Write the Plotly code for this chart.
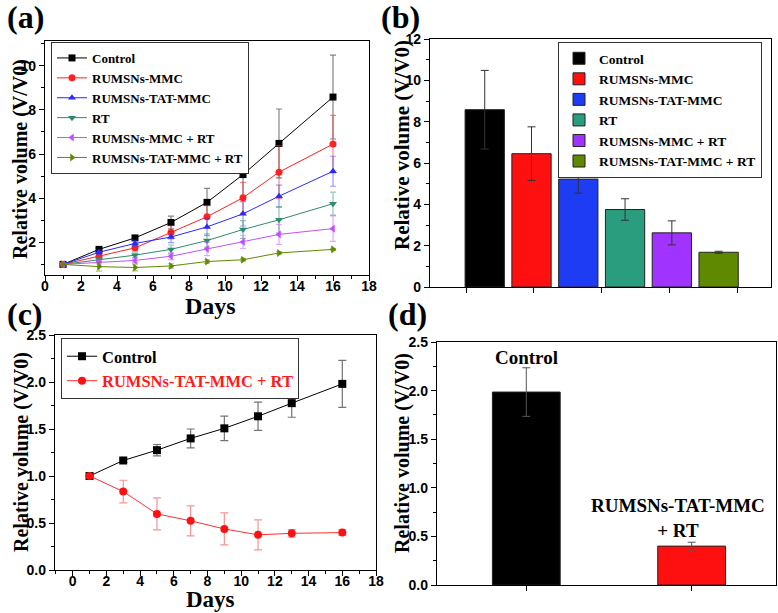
import plotly.graph_objects as go

# ---------------- data ----------------
days = [1, 3, 5, 7, 9, 11, 13, 16]
groups = ["Control", "RUMSNs-MMC", "RUMSNs-TAT-MMC", "RT",
          "RUMSNs-MMC + RT", "RUMSNs-TAT-MMC + RT"]

a_control = [1.0, 1.68, 2.20, 2.90, 3.81, 5.07, 6.48, 8.58]
a_mmc = [1.0, 1.36, 1.75, 2.45, 3.16, 4.02, 5.18, 6.45]
a_tat = [1.0, 1.55, 1.95, 2.24, 2.70, 3.29, 4.09, 5.22]
a_rt = [1.0, 1.22, 1.42, 1.68, 2.08, 2.58, 3.02, 3.75]
a_mmc_rt = [1.0, 1.10, 1.18, 1.37, 1.70, 2.02, 2.36, 2.62]
a_tat_rt = [1.0, 0.90, 0.86, 0.93, 1.13, 1.21, 1.52, 1.68]

e_control = [0, 0.08, 0.10, 0.29, 0.63, 1.10, 1.56, 1.90]
e_mmc = [0, 0.10, 0.15, 0.30, 0.50, 0.70, 1.20, 1.30]
e_tat = [0, 0.10, 0.15, 0.25, 0.40, 0.55, 0.50, 0.68]
e_rt = [0, 0.08, 0.10, 0.20, 0.30, 0.40, 0.60, 0.52]
e_mmc_rt = [0, 0.08, 0.10, 0.15, 0.30, 0.30, 0.45, 0.58]
e_tat_rt = [0, 0.20, 0.15, 0.10, 0.08, 0.06, 0.06, 0.05]

b_values = [8.58, 6.45, 5.22, 3.75, 2.62, 1.68]
b_errors = [1.90, 1.30, 0.68, 0.52, 0.58, 0.05]
b_pos = [1, 2, 3, 4, 5, 6]

c_control = [1.0, 1.165, 1.275, 1.40, 1.507, 1.635, 1.775, 1.98]
c_control_err = [0, 0.02, 0.06, 0.10, 0.13, 0.15, 0.15, 0.25]
c_combo = [1.0, 0.835, 0.597, 0.523, 0.437, 0.374, 0.39, 0.398]
c_combo_err = [0, 0.12, 0.17, 0.16, 0.17, 0.16, 0.04, 0.03]

d_labels = ["Control", "RUMSNs-TAT-MMC<br>+ RT"]
d_values = [1.985, 0.40]
d_errors = [0.25, 0.04]
d_pos = [1, 2]

# ---------------- styles ----------------
line_colors = ["#000000", "#ff2020", "#2a2aff", "#2e8b6e", "#c050ff", "#5f8a00"]
err_colors = ["rgba(90,90,90,0.75)", "rgba(255,40,40,0.55)", "rgba(50,50,255,0.5)",
              "rgba(46,139,110,0.5)", "rgba(192,80,255,0.5)", "rgba(95,138,0,0.5)"]
bar_colors = ["#000000", "#ff1010", "#1f3cf5", "#2a9d7f", "#a133ff", "#5f8a00"]
symbols = ["square", "circle", "triangle-up", "triangle-down", "triangle-left", "triangle-right"]

SERIF = "Liberation Serif"
SANS = "Liberation Sans"

fig = go.Figure()

a_series = [a_control, a_mmc, a_tat, a_rt, a_mmc_rt, a_tat_rt]
a_errs = [e_control, e_mmc, e_tat, e_rt, e_mmc_rt, e_tat_rt]
for i, name in enumerate(groups):
    fig.add_trace(go.Scatter(
        x=days, y=a_series[i], name=name, mode="lines+markers",
        line=dict(color=line_colors[i], width=1),
        marker=dict(symbol=symbols[i], size=7, color=line_colors[i]),
        error_y=dict(type="data", array=a_errs[i], color=err_colors[i], thickness=1.2, width=3),
        xaxis="x", yaxis="y", legend="legend"))

for i, name in enumerate(groups):
    fig.add_trace(go.Bar(
        x=[b_pos[i]], y=[b_values[i]], name=name, width=0.84,
        marker=dict(color=bar_colors[i], line=dict(color="#222222", width=1)),
        error_y=dict(type="data", array=[b_errors[i]], color="#333333", thickness=1, width=4),
        xaxis="x2", yaxis="y2", legend="legend2"))

fig.add_trace(go.Scatter(
    x=days, y=c_control, name="Control", mode="lines+markers",
    line=dict(color="#000000", width=1),
    marker=dict(symbol="square", size=8, color="#000000"),
    error_y=dict(type="data", array=c_control_err, color="rgba(80,80,80,0.8)", thickness=1.2, width=4),
    xaxis="x3", yaxis="y3", legend="legend3"))
fig.add_trace(go.Scatter(
    x=days, y=c_combo, name="<span style='color:#ff1a1a'>RUMSNs-TAT-MMC + RT</span>",
    mode="lines+markers",
    line=dict(color="#ff3030", width=1),
    marker=dict(symbol="circle", size=8, color="#ff1010"),
    error_y=dict(type="data", array=c_combo_err, color="rgba(240,60,60,0.55)", thickness=1.2, width=4),
    xaxis="x3", yaxis="y3", legend="legend3"))

fig.add_trace(go.Bar(
    x=d_pos, y=d_values, width=0.41, showlegend=False,
    marker=dict(color=["#000000", "#ff1010"], line=dict(color="#222222", width=1)),
    error_y=dict(type="data", array=d_errors, color="#555555", thickness=1, width=4),
    xaxis="x4", yaxis="y4"))

W, H = 778, 613


def px_x(p):
    return p / W


def px_y(p):
    return 1 - p / H


def ax(domain, **kw):
    d = dict(domain=domain, showline=True, linecolor="black", linewidth=1.3, mirror=True,
             ticks="outside", ticklen=5, tickwidth=1.3, tickcolor="black",
             showgrid=False, zeroline=False, automargin=False,
             tickfont=dict(family=SANS, size=14, color="black", weight="bold"))
    d.update(kw)
    return d


minor_style = dict(ticks="outside", ticklen=3, tickwidth=1, tickcolor="black")

layout = dict(
    template="none",
    width=W, height=H, margin=dict(l=0, r=0, t=0, b=0, pad=0, autoexpand=False),
    paper_bgcolor="white", plot_bgcolor="white", barmode="overlay",
    xaxis=ax([px_x(45), px_x(369)], anchor="y", range=[0, 18], dtick=2, tick0=0,
             ticklabelstandoff=-7, minor=dict(dtick=1, **minor_style)),
    yaxis=ax([px_y(275), px_y(41)], anchor="x", range=[0.52, 11.12],
             tickvals=[2, 4, 6, 8, 10], minor=dict(tickvals=[1, 3, 5, 7, 9, 11], **minor_style)),
    xaxis2=ax([px_x(430), px_x(771)], anchor="y2", range=[-0.17, 7.12],
              tickvals=[0.6, 2.05, 3.5, 4.95, 6.4], showticklabels=False),
    yaxis2=ax([px_y(287), px_y(39)], anchor="x2", range=[0, 12], dtick=2,
              minor=dict(dtick=1, **minor_style)),
    xaxis3=ax([px_x(55), px_x(376)], anchor="y3", range=[-1.05, 18], dtick=2, tick0=0,
              ticklabelstandoff=-7, minor=dict(dtick=1, **minor_style)),
    yaxis3=ax([px_y(570), px_y(335)], anchor="x3", range=[0, 2.5], dtick=0.5, tickformat=".1f",
              minor=dict(dtick=0.25, **minor_style)),
    xaxis4=ax([px_x(437), px_x(776)], anchor="y4", range=[0.46, 2.51],
              tickvals=[1, 2], showticklabels=False),
    yaxis4=ax([px_y(585), px_y(342)], anchor="x4", range=[0, 2.5], dtick=0.5, tickformat=".1f",
              minor=dict(dtick=0.25, **minor_style)),
    legend=dict(x=px_x(51), y=px_y(42), xanchor="left", yanchor="top",
                bgcolor="white", bordercolor="#333333", borderwidth=1, tracegroupgap=0,
                font=dict(family=SERIF, size=13, color="black", weight="bold")),
    legend2=dict(x=px_x(558), y=px_y(42), xanchor="left", yanchor="top",
                 bgcolor="white", bordercolor="#333333", borderwidth=1, tracegroupgap=0,
                 font=dict(family=SERIF, size=13.5, color="black", weight="bold")),
    legend3=dict(x=px_x(61), y=px_y(338), xanchor="left", yanchor="top",
                 bgcolor="white", bordercolor="#333333", borderwidth=1, tracegroupgap=0,
                 font=dict(family=SERIF, size=16.5, color="black", weight="bold")),
)
fig.update_layout(**layout)

big = dict(family=SERIF, size=32, color="black", weight="bold")
ann = []
for lbl, x, y in [("(a)", 25, 17), ("(b)", 400, 17), ("(c)", 25, 314), ("(d)", 407, 314)]:
    ann.append(dict(text=lbl, x=px_x(x), y=px_y(y), xref="paper", yref="paper",
                    showarrow=False, font=big, xanchor="center", yanchor="middle"))
for x, y, s in [(21, 159, 20), (402, 145, 21), (21, 452, 20), (402, 453, 20)]:
    ann.append(dict(text="Relative volume (V/V0)", x=px_x(x), y=px_y(y), xref="paper", yref="paper",
                    showarrow=False, textangle=-90, xanchor="center", yanchor="middle",
                    font=dict(family=SERIF, size=s, color="black", weight="bold")))
for x, y, s in [(210, 306, 24), (210, 599, 23)]:
    ann.append(dict(text="Days", x=px_x(x), y=px_y(y), xref="paper", yref="paper",
                    showarrow=False, font=dict(family=SERIF, size=s, color="black", weight="bold"),
                    xanchor="center", yanchor="middle"))
ann.append(dict(text=d_labels[0], x=d_pos[0], y=2.34, xref="x4", yref="y4", showarrow=False,
                font=dict(family=SERIF, size=19, color="black", weight="bold")))
ann.append(dict(text=d_labels[1], x=1.92, y=0.69, xref="x4", yref="y4", showarrow=False,
                font=dict(family=SERIF, size=19, color="black", weight="bold")))
fig.update_layout(annotations=ann)

fig.write_html("out.html", config={"displayModeBar": False},
               post_script="document.body.style.margin='0px';")
